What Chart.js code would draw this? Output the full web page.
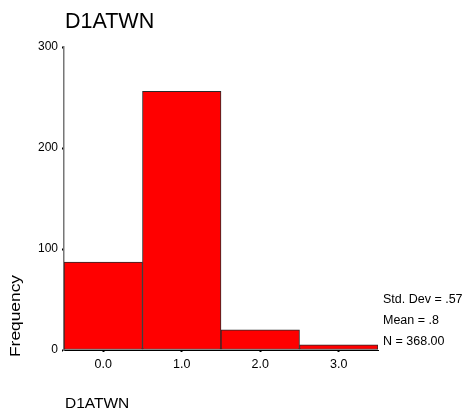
<!DOCTYPE html>
<html>
<head>
<meta charset="utf-8">
<script src="https://cdn.jsdelivr.net/npm/chart.js@4.4.0/dist/chart.umd.min.js"></script>
<style>
html,body{margin:0;padding:0;background:#fff;}
#wrap{width:465px;height:418px;position:relative;}
</style>
</head>
<body>
<div id="wrap"><canvas id="c" width="465" height="418"></canvas></div>
<script>
const categories = ['0.0', '1.0', '2.0', '3.0'];
const frequencies = [87, 256, 20, 5];
const yTicks = [0, 100, 200, 300];
const chartTitle = 'D1ATWN';
const xTitle = 'D1ATWN';
const yTitle = 'Frequency';
const statsLines = ['Std. Dev = .57', 'Mean = .8', 'N = 368.00'];

const FONT = "'Liberation Sans', Arial, sans-serif";

const textPlugin = {
  id: 'textPlugin',
  afterDraw(chart) {
    const ctx = chart.ctx;
    const a = chart.chartArea;
    ctx.save();
    ctx.fillStyle = '#000';
    ctx.textBaseline = 'alphabetic';
    // title
    ctx.font = '21.5px ' + FONT;
    ctx.textAlign = 'left';
    ctx.fillText(chartTitle, a.left + 1, 28);
    // x title
    ctx.font = '15.5px ' + FONT;
    ctx.fillText(xTitle, a.left + 1, 408);
    // y title (rotated, stretched)
    ctx.font = '14px ' + FONT;
    const w = ctx.measureText(yTitle).width;
    ctx.translate(20, 357);
    ctx.rotate(-Math.PI / 2);
    ctx.scale(82 / w, 1);
    ctx.fillText(yTitle, 0, 0);
    ctx.restore();
    // stats
    ctx.save();
    ctx.fillStyle = '#000';
    ctx.font = '12.5px ' + FONT;
    ctx.textAlign = 'left';
    statsLines.forEach((s, i) => {
      ctx.fillText(s, a.right + 5, 303 + i * 21);
    });
    ctx.restore();
  }
};

new Chart(document.getElementById('c'), {
  type: 'bar',
  data: {
    labels: categories,
    datasets: [{
      data: frequencies,
      backgroundColor: '#ff0000',
      borderColor: '#2a2a2a',
      borderWidth: 1,
      borderSkipped: false,
      barPercentage: 1,
      categoryPercentage: 1
    }]
  },
  options: {
    responsive: false,
    animation: false,
    devicePixelRatio: 1,
    layout: { padding: { left: 0, top: 47, right: 87, bottom: 38 } },
    plugins: { legend: { display: false }, tooltip: { enabled: false }, title: { display: false } },
    scales: {
      x: {
        offset: true,
        grid: { display: true, offset: false, drawOnChartArea: false, drawTicks: true, tickLength: 2, tickWidth: 2, tickColor: '#000' },
        border: { display: true, color: '#000', width: 1 },
        ticks: { color: '#000', font: { family: FONT, size: 12.5 }, padding: 5 },
        afterFit(s) { s.height = 30; }
      },
      y: {
        min: 0, max: 300,
        afterBuildTicks(s) { s.ticks = yTicks.map(v => ({ value: v })); },
        grid: { display: true, drawOnChartArea: false, drawTicks: true, tickLength: 2, tickWidth: 2, tickColor: '#000' },
        border: { display: true, color: '#777', width: 1.5 },
        ticks: { color: '#000', font: { family: FONT, size: 12 }, padding: 4 },
        afterFit(s) { s.width = 64; }
      }
    }
  },
  plugins: [textPlugin]
});
</script>
</body>
</html>
